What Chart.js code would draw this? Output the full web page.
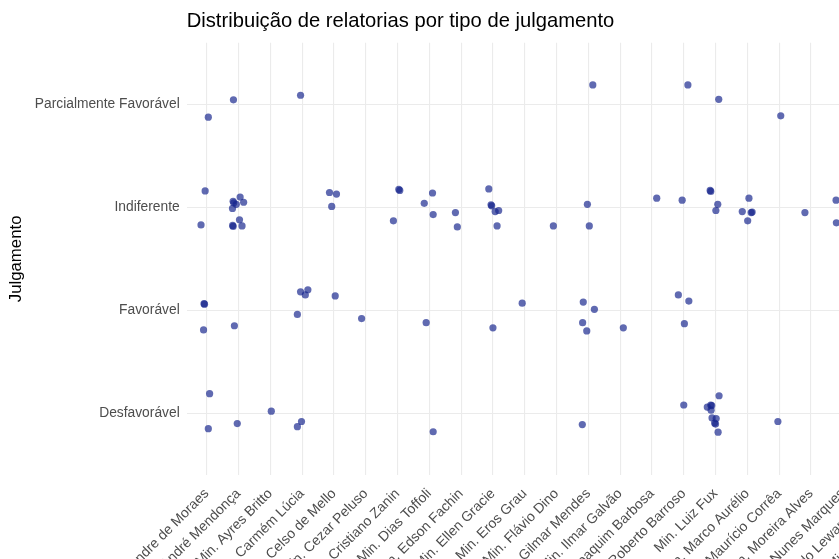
<!DOCTYPE html>
<html>
<head>
<meta charset="utf-8">
<script src="https://cdn.jsdelivr.net/npm/chart.js@4/dist/chart.umd.min.js"></script>
<style>
  html, body { margin: 0; padding: 0; background: #fff; overflow: hidden; }
  canvas { display: block; }
</style>
</head>
<body>
<canvas id="grafico" width="1000" height="559"></canvas>
<script>
// categorias do eixo x (ministros relatores)
const ministros = [
  'Min. Alexandre de Moraes', 'Min. André Mendonça', 'Min. Ayres Britto', 'Min. Carmém Lúcia',
  'Min. Celso de Mello', 'Min. Cezar Peluso', 'Min. Cristiano Zanin', 'Min. Dias Toffoli',
  'Min. Edson Fachin', 'Min. Ellen Gracie', 'Min. Eros Grau', 'Min. Flávio Dino',
  'Min. Gilmar Mendes', 'Min. Ilmar Galvão', 'Min. Joaquim Barbosa', 'Min. Luís Roberto Barroso',
  'Min. Luiz Fux', 'Min. Marco Aurélio', 'Min. Maurício Corrêa', 'Min. Moreira Alves',
  'Min. Nunes Marques', 'Min. Ricardo Lewandowski', 'Min. Rosa Weber', 'Min. Sepúlveda Pertence',
  'Min. Teori Zavascki'
];
// categorias do eixo y (tipo de julgamento), de baixo para cima
const julgamentos = ['Desfavorável', 'Favorável', 'Indiferente', 'Parcialmente Favorável'];

// pontos com jitter: x = índice do ministro + ruído, y = nível + ruído
const desfavoravelX = [0.09, 0.05, 0.96, 2.03, 2.85, 2.98, 7.12, 11.81, 15.0,
  16.11, 15.85, 15.88, 15.74, 15.86, 15.89, 16.02, 15.97, 16.0, 16.08, 17.96];
const desfavoravelY = [1.19, 0.85, 0.90, 1.02, 0.87, 0.92, 0.82, 0.89, 1.08,
  1.17, 1.08, 1.075, 1.06, 1.03, 0.955, 0.948, 0.905, 0.895, 0.816, 0.92];

const favoravelX = [-0.085, -0.07, -0.10, 0.87, 2.95, 3.18, 3.10, 2.85, 4.04, 4.87, 6.90,
  9.0, 9.92, 11.84, 12.19, 11.82, 11.95, 13.10, 14.83, 15.16, 15.02];
const favoravelY = [2.065, 2.06, 1.81, 1.85, 2.18, 2.20, 2.15, 1.96, 2.14, 1.92, 1.88,
  1.83, 2.07, 2.08, 2.01, 1.88, 1.80, 1.83, 2.15, 2.09, 1.87];

const indiferenteX = [-0.05, -0.18, 0.83, 0.85, 1.05, 1.16, 0.93, 0.81, 0.815, 0.83, 1.03, 1.11,
  3.86, 4.08, 3.93, 6.04, 6.07, 5.87, 6.84, 7.10, 7.12, 7.82, 7.88,
  8.87, 8.94, 8.96, 9.07, 9.18, 9.13, 10.90, 11.97, 12.03, 14.15, 14.95,
  15.83, 15.85, 16.07, 16.01, 17.05, 16.84, 17.12, 17.15, 17.01, 18.81, 19.79, 19.80];
const indiferenteY = [3.16, 2.83, 3.06, 3.045, 3.10, 3.05, 3.03, 2.99, 2.825, 2.815, 2.88, 2.82,
  3.145, 3.13, 3.01, 3.175, 3.165, 2.87, 3.04, 3.14, 2.93, 2.95, 2.81,
  3.18, 3.025, 3.015, 2.96, 2.97, 2.82, 2.82, 3.03, 2.82, 3.09, 3.07,
  3.165, 3.155, 3.03, 2.97, 3.09, 2.96, 2.95, 2.955, 2.87, 2.95, 3.07, 2.85];

const parcialX = [0.05, 0.84, 2.95, 12.14, 15.13, 16.10, 18.05];
const parcialY = [3.877, 4.045, 4.09, 4.19, 4.19, 4.05, 3.89];

function juntar(xs, ys) {
  return xs.map((x, i) => ({ x: x, y: ys[i] }));
}
var pontos = [].concat(
  juntar(desfavoravelX, desfavoravelY),
  juntar(favoravelX, favoravelY),
  juntar(indiferenteX, indiferenteY),
  juntar(parcialX, parcialY)
);

var fonte = "'Liberation Sans', Arial, Helvetica, sans-serif";
var corGrade = '#EBEBEB';
var corTexto = '#4D4D4D';

new Chart(document.getElementById('grafico'), {
  type: 'scatter',
  data: {
    datasets: [{
      data: pontos,
      backgroundColor: 'rgba(20, 35, 140, 0.68)',
      borderWidth: 0,
      pointRadius: 3.6,
      pointHoverRadius: 3.6
    }]
  },
  options: {
    responsive: false,
    animation: false,
    events: [],
    layout: { padding: { left: 0, right: 10, top: 0, bottom: 0 } },
    plugins: {
      legend: { display: false },
      tooltip: { enabled: false },
      title: {
        display: true,
        text: 'Distribuição de relatorias por tipo de julgamento',
        align: 'start',
        fullSize: false,
        color: '#000',
        font: { family: fonte, size: 20.2, weight: 'normal' },
        padding: { top: 9, bottom: 9.5 }
      }
    },
    scales: {
      x: {
        type: 'linear',
        min: -0.63,
        max: ministros.length - 1 + 0.63,
        afterBuildTicks: function (s) { s.ticks = ministros.map((_, i) => ({ value: i })); },
        afterFit: function (s) { s.height = 84; },
        grid: { color: corGrade, lineWidth: 1.1, drawTicks: false },
        border: { display: false },
        ticks: {
          autoSkip: false,
          minRotation: 45,
          maxRotation: 45,
          padding: 10.5,
          color: corTexto,
          font: { family: fonte, size: 14 },
          callback: function (v) { return ministros[v] || ''; }
        }
      },
      y: {
        type: 'linear',
        min: 0.4,
        max: 4.6,
        afterBuildTicks: function (s) { s.ticks = julgamentos.map((_, i) => ({ value: i + 1 })); },
        afterFit: function (s) { s.width = 186.7; },
        grid: { color: corGrade, lineWidth: 1.1, drawTicks: false },
        border: { display: false },
        title: {
          display: true,
          text: 'Julgamento',
          color: '#000',
          font: { family: fonte, size: 16.8 },
          padding: { top: 6.2, bottom: 0 }
        },
        ticks: {
          padding: 7,
          color: corTexto,
          font: { family: fonte, size: 13.8 },
          callback: function (v) { return julgamentos[v - 1] || ''; }
        }
      }
    }
  }
});
</script>
</body>
</html>
